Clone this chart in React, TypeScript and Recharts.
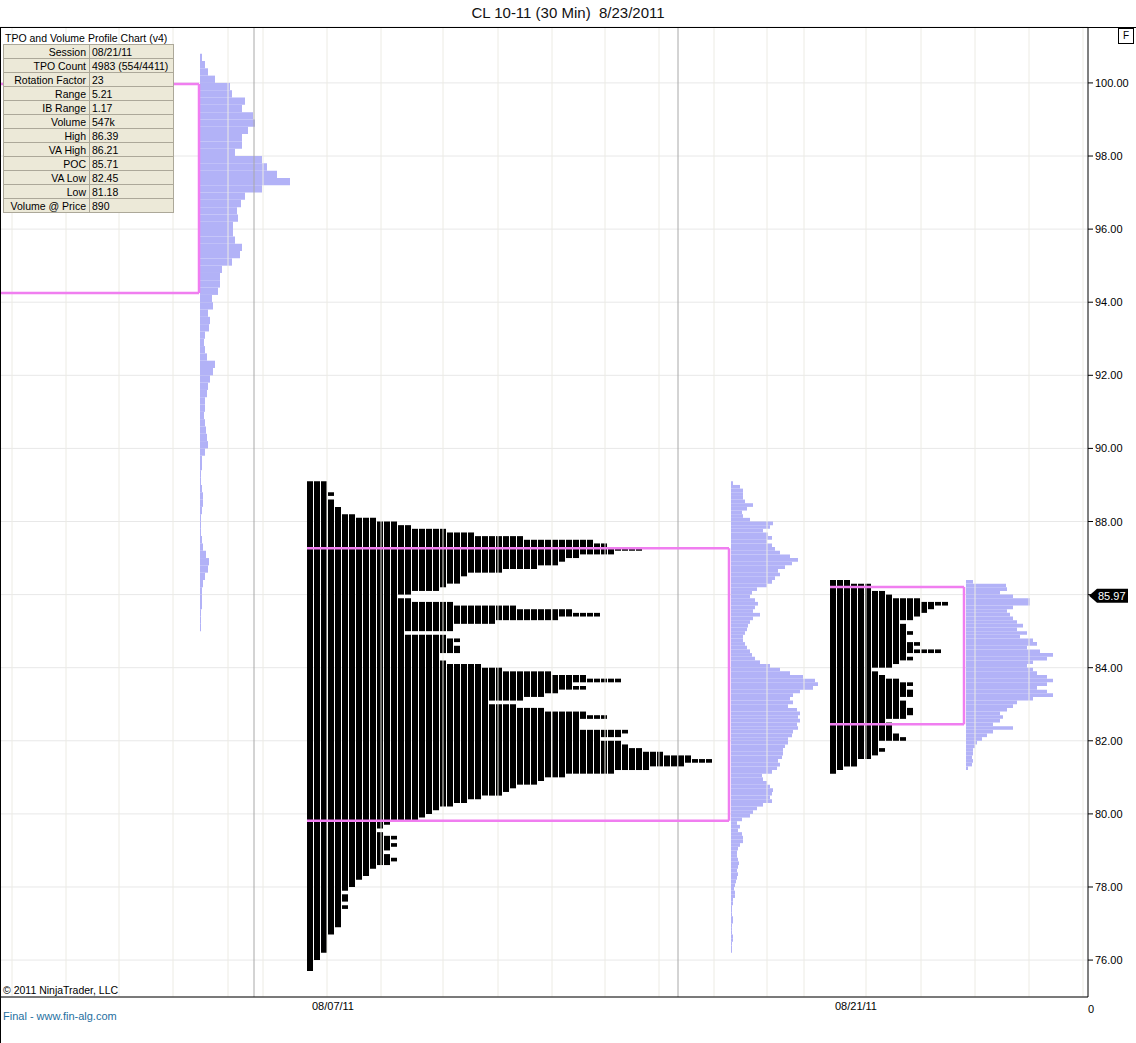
import React from 'react';
import {
  ComposedChart,
  XAxis,
  YAxis,
  CartesianGrid,
  ReferenceArea,
  ReferenceLine,
  Scatter,
} from 'recharts';

const TITLE = 'CL 10-11 (30 Min)  8/23/2011';

const PRICE_TICKS = [76, 78, 80, 82, 84, 86, 88, 90, 92, 94, 96, 98, 100];
const DATE_TICKS = [333, 856];
const DATE_LABELS = ['08/07/11', '08/21/11'];
const GRID_X = [12, 66, 119, 173, 228, 263, 327, 381, 443, 498, 552, 605, 659, 714, 767, 804, 866, 921, 975, 1029, 1083];
const SESSION_BREAKS = [254, 678];
const LAST_PRICE = 85.97;

const STAT_LABELS = ['Session', 'TPO Count', 'Rotation Factor', 'Range', 'IB Range', 'Volume', 'High', 'VA High', 'POC', 'VA Low', 'Low', 'Volume @ Price'];
const STAT_VALUES = ['08/21/11', '4983 (554/4411)', '23', '5.21', '1.17', '547k', '86.39', '86.21', '85.71', '82.45', '81.18', '890'];

// value areas of the three sessions: [high, low]
const VA_HIGH = [99.97, 87.27, 86.21];
const VA_LOW = [94.25, 79.81, 82.45];

// TPO rows, [price, count], high to low, 0.10 per row
const tpoAug07: [number, number][] = [
  [89.0, 3], [88.9, 3], [88.8, 3], [88.7, 4], [88.6, 3], [88.5, 4], [88.4, 4], [88.3, 5], [88.2, 5], [88.1, 7],
  [88.0, 10], [87.9, 13], [87.8, 15], [87.7, 20], [87.6, 24], [87.5, 31], [87.4, 41], [87.3, 43], [87.2, 48], [87.1, 44],
  [87.0, 39], [86.9, 37], [86.8, 36], [86.7, 33], [86.6, 28], [86.5, 23], [86.4, 22], [86.3, 22], [86.2, 20], [86.1, 19],
  [86.0, 15], [85.9, 13], [85.8, 15], [85.7, 21], [85.6, 30], [85.5, 38], [85.4, 42], [85.3, 36], [85.2, 27], [85.1, 21],
  [85.0, 21], [84.9, 14], [84.8, 20], [84.7, 22], [84.6, 21], [84.5, 22], [84.4, 22], [84.3, 19], [84.2, 19], [84.1, 20],
  [84.0, 25], [83.9, 28], [83.8, 35], [83.7, 40], [83.6, 45], [83.5, 38], [83.4, 40], [83.3, 36], [83.2, 34], [83.1, 31],
  [83.0, 26], [82.9, 30], [82.8, 34], [82.7, 40], [82.6, 43], [82.5, 39], [82.4, 39], [82.3, 39], [82.2, 46], [82.1, 45],
  [82.0, 42], [81.9, 45], [81.8, 46], [81.7, 48], [81.6, 51], [81.5, 55], [81.4, 58], [81.3, 54], [81.2, 49], [81.1, 44],
  [81.0, 37], [80.9, 34], [80.8, 33], [80.7, 30], [80.6, 29], [80.5, 28], [80.4, 25], [80.3, 23], [80.2, 21], [80.1, 19],
  [80.0, 18], [79.9, 17], [79.8, 16], [79.7, 12], [79.6, 11], [79.5, 10], [79.4, 11], [79.3, 13], [79.2, 12], [79.1, 13],
  [79.0, 12], [78.9, 11], [78.8, 12], [78.7, 13], [78.6, 12], [78.5, 10], [78.4, 9], [78.3, 9], [78.2, 8], [78.1, 7],
  [78.0, 7], [77.9, 6], [77.8, 5], [77.7, 6], [77.6, 6], [77.5, 5], [77.4, 6], [77.3, 5], [77.2, 5], [77.1, 5],
  [77.0, 5], [76.9, 5], [76.8, 4], [76.7, 4], [76.6, 3], [76.5, 3], [76.4, 3], [76.3, 3], [76.2, 3], [76.1, 2],
  [76.0, 2], [75.9, 1], [75.8, 1], [75.7, 1],
];

const tpoAug21: [number, number][] = [
  [86.3, 3], [86.2, 6], [86.1, 6], [86.0, 8], [85.9, 9], [85.8, 13], [85.7, 17], [85.6, 15], [85.5, 14], [85.4, 13],
  [85.3, 12], [85.2, 10], [85.1, 11], [85.0, 11], [84.9, 12], [84.8, 11], [84.7, 11], [84.6, 13], [84.5, 12], [84.4, 16],
  [84.3, 11], [84.2, 12], [84.1, 10], [84.0, 9], [83.9, 6], [83.8, 7], [83.7, 8], [83.6, 10], [83.5, 12], [83.4, 11],
  [83.3, 12], [83.2, 12], [83.1, 10], [83.0, 11], [82.9, 11], [82.8, 12], [82.7, 12], [82.6, 11], [82.5, 8], [82.4, 9],
  [82.3, 9], [82.2, 9], [82.1, 10], [82.0, 11], [81.9, 7], [81.8, 7], [81.7, 8], [81.6, 7], [81.5, 6], [81.4, 4],
  [81.3, 4], [81.2, 2], [81.1, 1],
];

// volume rows, [price, volume width], high to low
const volAug07: [number, number][] = [
  [100.6, 2], [100.4, 5], [100.2, 8], [100.0, 15], [99.8, 30], [99.6, 32], [99.4, 45], [99.2, 42], [99.0, 53], [98.8, 55],
  [98.6, 48], [98.4, 42], [98.2, 42], [98.0, 35], [97.8, 62], [97.6, 67], [97.4, 77], [97.2, 90], [97.0, 62], [96.8, 45],
  [96.6, 41], [96.4, 37], [96.2, 38], [96.0, 33], [95.8, 33], [95.6, 35], [95.4, 42], [95.2, 40], [95.0, 32], [94.8, 22],
  [94.6, 20], [94.4, 20], [94.2, 18], [94.0, 12], [93.8, 13], [93.6, 8], [93.4, 10], [93.2, 9], [93.0, 5], [92.8, 4],
  [92.6, 5], [92.4, 7], [92.2, 15], [92.0, 13], [91.8, 10], [91.6, 8], [91.4, 7], [91.2, 5], [91.0, 5], [90.8, 4],
  [90.6, 5], [90.4, 6], [90.2, 7], [90.0, 8], [89.8, 5], [89.6, 2], [89.4, 2], [89.2, 1], [89.0, 1], [88.8, 2],
  [88.6, 3], [88.4, 3], [88.2, 2], [88.0, 1], [87.8, 1], [87.6, 1], [87.4, 2], [87.2, 3], [87.0, 6], [86.8, 9],
  [86.6, 8], [86.4, 5], [86.2, 3], [86.0, 2], [85.8, 2], [85.6, 2], [85.4, 1], [85.2, 1], [85.0, 1],
];

const volAug14: [number, number][] = [
  [89.0, 2], [88.9, 9], [88.8, 12], [88.7, 12], [88.6, 12], [88.5, 14], [88.4, 22], [88.3, 16], [88.2, 11], [88.1, 12],
  [88.0, 19], [87.9, 42], [87.8, 39], [87.7, 32], [87.6, 37], [87.5, 41], [87.4, 36], [87.3, 41], [87.2, 44], [87.1, 49],
  [87.0, 59], [86.9, 67], [86.8, 61], [86.7, 54], [86.6, 47], [86.5, 49], [86.4, 44], [86.3, 41], [86.2, 36], [86.1, 26],
  [86.0, 21], [85.9, 19], [85.8, 24], [85.7, 27], [85.6, 24], [85.5, 22], [85.4, 29], [85.3, 22], [85.2, 19], [85.1, 17],
  [85.0, 16], [84.9, 14], [84.8, 12], [84.7, 12], [84.6, 14], [84.5, 16], [84.4, 19], [84.3, 21], [84.2, 24], [84.1, 29],
  [84.0, 39], [83.9, 49], [83.8, 59], [83.7, 72], [83.6, 84], [83.5, 87], [83.4, 82], [83.3, 69], [83.2, 62], [83.1, 59],
  [83.0, 62], [82.9, 57], [82.8, 66], [82.7, 69], [82.6, 67], [82.5, 69], [82.4, 66], [82.3, 67], [82.2, 62], [82.1, 61],
  [82.0, 57], [81.9, 57], [81.8, 54], [81.7, 52], [81.6, 52], [81.5, 51], [81.4, 47], [81.3, 49], [81.2, 46], [81.1, 41],
  [81.0, 31], [80.9, 32], [80.8, 36], [80.7, 39], [80.6, 42], [80.5, 41], [80.4, 39], [80.3, 41], [80.2, 32], [80.1, 26],
  [80.0, 22], [79.9, 19], [79.8, 11], [79.7, 6], [79.6, 9], [79.5, 7], [79.4, 11], [79.3, 12], [79.2, 12], [79.1, 9],
  [79.0, 7], [78.9, 6], [78.8, 6], [78.7, 7], [78.6, 8], [78.5, 7], [78.4, 6], [78.3, 7], [78.2, 6], [78.1, 5],
  [78.0, 4], [77.9, 3], [77.8, 4], [77.7, 4], [77.6, 2], [77.5, 2], [77.4, 1], [77.3, 1], [77.2, 1], [77.1, 2],
  [77.0, 2], [76.9, 1], [76.8, 1], [76.7, 1], [76.6, 2], [76.5, 2], [76.4, 1], [76.3, 1], [76.2, 1],
];

const volAug21: [number, number][] = [
  [86.3, 7], [86.2, 40], [86.1, 41], [86.0, 34], [85.9, 47], [85.8, 64], [85.7, 64], [85.6, 47], [85.5, 41], [85.4, 44],
  [85.3, 47], [85.2, 51], [85.1, 57], [85.0, 51], [84.9, 61], [84.8, 54], [84.7, 67], [84.6, 71], [84.5, 61], [84.4, 74],
  [84.3, 87], [84.2, 81], [84.1, 67], [84.0, 61], [83.9, 67], [83.8, 71], [83.7, 81], [83.6, 87], [83.5, 81], [83.4, 71],
  [83.3, 81], [83.2, 87], [83.1, 67], [83.0, 51], [82.9, 47], [82.8, 41], [82.7, 34], [82.6, 37], [82.5, 34], [82.4, 27],
  [82.3, 47], [82.2, 27], [82.1, 21], [82.0, 16], [81.9, 11], [81.8, 9], [81.7, 7], [81.6, 7], [81.5, 6], [81.4, 7],
  [81.3, 6], [81.2, 2],
];

// layout (x units = chart slots)
const X_MAX = 1088;
const TPO_COL = 7;
const TPO_A_X = 307;
const TPO_B_X = 830;
const VOL_A_X = 200;
const VOL_B_X = 731;
const VOL_C_X = 966;
const VA_X = [
  [0, 199],
  [307, 729],
  [830, 964],
];

const PINK = '#f07ef0';
const VOL_COLOR = '#b2b2f7';
const FONT = '"Liberation Sans", Arial, sans-serif';

type Seg = { k: number; top: number; bottom: number };

function columnSegments(rows: [number, number][], step: number): Seg[] {
  const max = Math.max(...rows.map((r) => r[1]));
  const segs: Seg[] = [];
  for (let k = 1; k <= max; k++) {
    let top: number | null = null;
    let bottom = 0;
    for (const [p, c] of rows) {
      if (c >= k) {
        if (top === null) top = p + step;
        bottom = p;
      } else if (top !== null) {
        segs.push({ k, top, bottom });
        top = null;
      }
    }
    if (top !== null) segs.push({ k, top, bottom });
  }
  return segs;
}

function tpoAreas(rows: [number, number][], x0: number, id: string) {
  return columnSegments(rows, 0.1).map((s, i) => (
    <ReferenceArea
      key={id + i}
      x1={x0 + (s.k - 1) * TPO_COL}
      x2={x0 + s.k * TPO_COL - 1}
      y1={s.bottom}
      y2={s.top}
      fill="#000"
      fillOpacity={1}
      stroke="none"
    />
  ));
}

function volAreas(rows: [number, number][], x0: number, step: number, id: string) {
  return rows.map(([p, w], i) => (
    <ReferenceArea
      key={id + i}
      x1={x0}
      x2={x0 + w}
      y1={p}
      y2={p + step}
      fill={VOL_COLOR}
      fillOpacity={1}
      stroke="none"
    />
  ));
}

const PriceMarker = (props: any) => {
  const { cx, cy } = props;
  return (
    <g>
      <path
        d={`M${cx + 1},${cy} L${cx + 9},${cy - 7} L${cx + 40},${cy - 7} L${cx + 40},${cy + 7} L${cx + 9},${cy + 7} Z`}
        fill="#000"
      />
      <text x={cx + 10} y={cy + 4} fontSize={11} fill="#fff" fontFamily={FONT}>
        {LAST_PRICE.toFixed(2)}
      </text>
    </g>
  );
};

// price labels; the one under the last-price marker is covered, as in the source
const PriceTick = (props: any) => {
  const { x, y, payload } = props;
  if (Math.abs(payload.value - LAST_PRICE) < 0.3) return <g />;
  return (
    <text x={x} y={y} dy={4} fontSize={11} fill="#000" textAnchor="start" fontFamily={FONT}>
      {payload.value.toFixed(2)}
    </text>
  );
};

export default function App() {
  return (
    <div style={{ position: 'absolute', left: 0, top: 0, width: 1136, height: 1043, background: '#fff', fontFamily: FONT }}>
      <ComposedChart width={1136} height={1043} margin={{ top: 27, right: 0, bottom: 0, left: 0 }} data={[]}>
        <CartesianGrid vertical={false} stroke="#e8e8e8" />
        {GRID_X.map((gx) => (
          <ReferenceLine key={'g' + gx} x={gx} stroke="#ecebe4" />
        ))}
        {SESSION_BREAKS.map((bx) => (
          <ReferenceLine key={'s' + bx} x={bx} stroke="#a8a8a8" />
        ))}
        <XAxis
          type="number"
          dataKey="x"
          domain={[0, X_MAX]}
          ticks={DATE_TICKS}
          tickFormatter={(v: number) => DATE_LABELS[DATE_TICKS.indexOf(v)]}
          tickLine={false}
          tickSize={3}
          axisLine={{ stroke: '#000' }}
          tick={{ fontSize: 11, fill: '#000' }}
          height={46}
        />
        <YAxis
          type="number"
          dataKey="y"
          orientation="right"
          domain={[74.99, 101.53]}
          ticks={PRICE_TICKS}
          tickSize={5}
          tickLine={{ stroke: '#000' }}
          axisLine={{ stroke: '#000' }}
          tick={PriceTick}
          width={48}
        />
        {volAreas(volAug07, VOL_A_X, 0.2, 'va')}
        {volAreas(volAug14, VOL_B_X, 0.1, 'vb')}
        {volAreas(volAug21, VOL_C_X, 0.1, 'vc')}
        {tpoAreas(tpoAug07, TPO_A_X, 'ta')}
        {tpoAreas(tpoAug21, TPO_B_X, 'tb')}
        {VA_X.map(([xa, xb], i) => [
          <ReferenceLine key={'vh' + i} segment={[{ x: xa, y: VA_HIGH[i] }, { x: xb, y: VA_HIGH[i] }]} stroke={PINK} strokeWidth={2.5} ifOverflow="visible" />,
          <ReferenceLine key={'vl' + i} segment={[{ x: xa, y: VA_LOW[i] }, { x: xb, y: VA_LOW[i] }]} stroke={PINK} strokeWidth={2.5} ifOverflow="visible" />,
          <ReferenceLine key={'vr' + i} segment={[{ x: xb, y: VA_HIGH[i] }, { x: xb, y: VA_LOW[i] }]} stroke={PINK} strokeWidth={2.5} ifOverflow="visible" />,
        ])}
        <Scatter data={[{ x: X_MAX, y: LAST_PRICE }]} dataKey="y" shape={PriceMarker} isAnimationActive={false} />
      </ComposedChart>

      {/* frame */}
      <div style={{ position: 'absolute', left: 0, top: 27, width: 1136, height: 1, background: '#000' }} />
      <div style={{ position: 'absolute', left: 0, top: 27, width: 1, height: 1016, background: '#000' }} />

      <div style={{ position: 'absolute', left: 0, top: 4, width: 1136, textAlign: 'center', fontSize: 15, color: '#111', whiteSpace: 'pre' }}>{TITLE}</div>

      <div style={{ position: 'absolute', left: 1118, top: 28, width: 14, height: 14, border: '1px solid #000', fontSize: 10, lineHeight: '14px', textAlign: 'center', background: '#fff' }}>F</div>

      <div style={{ position: 'absolute', left: 5, top: 32, fontSize: 10.5, color: '#000' }}>TPO and Volume Profile Chart (v4)</div>
      <table style={{ position: 'absolute', left: 3, top: 44, borderCollapse: 'collapse', fontSize: 10.5, background: '#ece9d8', fontFamily: FONT }}>
        <tbody>
          {STAT_LABELS.map((l, i) => (
            <tr key={l} style={{ height: 14 }}>
              <td style={{ border: '1px solid #aca899', width: 82, textAlign: 'right', padding: '0 3px 0 0', lineHeight: '12px' }}>{l}</td>
              <td style={{ border: '1px solid #aca899', width: 81, textAlign: 'left', padding: '0 0 0 2px', lineHeight: '12px' }}>{STAT_VALUES[i]}</td>
            </tr>
          ))}
        </tbody>
      </table>

      <div style={{ position: 'absolute', left: 3, top: 984, fontSize: 10.5, color: '#000' }}>© 2011 NinjaTrader, LLC</div>
      <div style={{ position: 'absolute', left: 3, top: 1010, fontSize: 11, color: '#1f6f9f' }}>Final - www.fin-alg.com</div>
      <div style={{ position: 'absolute', left: 1088, top: 1003, fontSize: 11, color: '#000' }}>0</div>
    </div>
  );
}
